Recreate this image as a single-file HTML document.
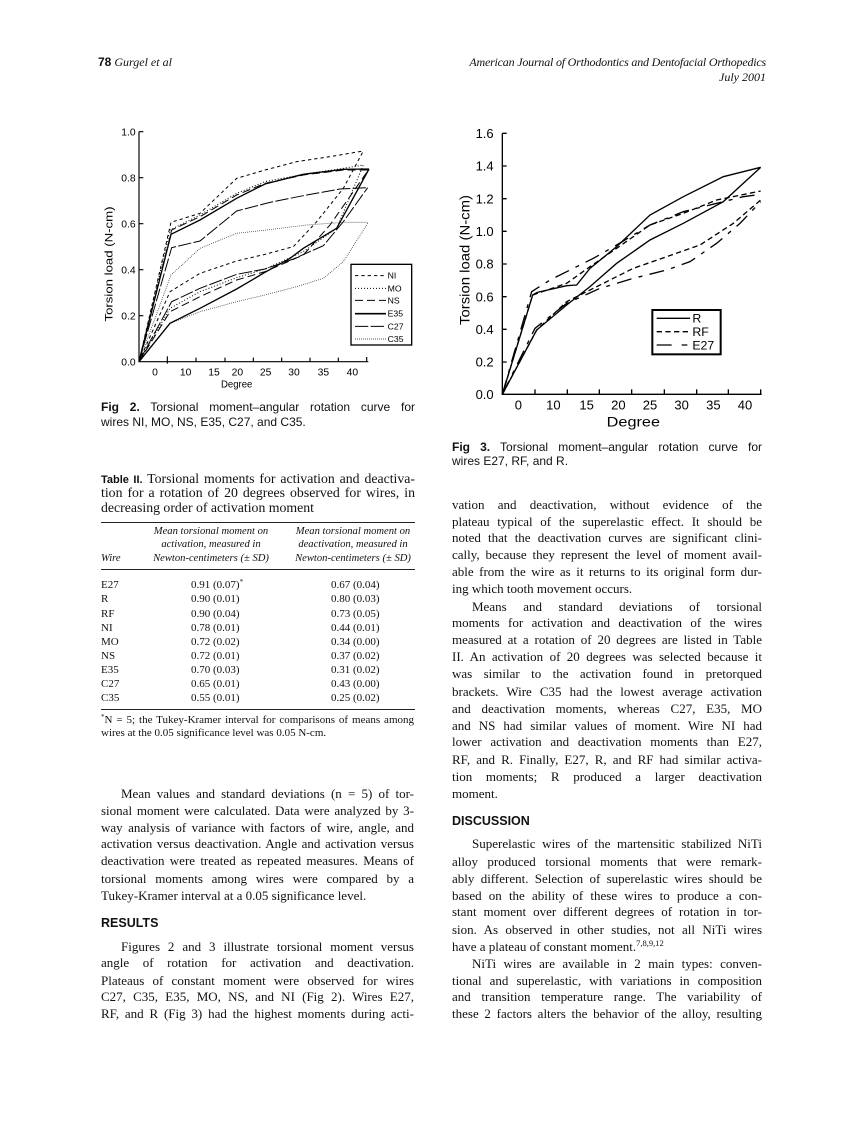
<!DOCTYPE html>
<html><head><meta charset="utf-8"><style>
html,body{margin:0;padding:0;background:#fff;}
body{width:866px;height:1122px;position:relative;overflow:hidden;color:#111;}
.a{position:absolute;white-space:nowrap;}
.l{position:absolute;font-family:"Liberation Serif",serif;font-size:13px;line-height:17px;text-align:justify;text-align-last:justify;height:17px;margin-top:1px;}
.L{left:101px;width:313px;}
.Li{left:121px;width:293px;}
.R{left:452px;width:310px;}
.Ri{left:472px;width:290px;}
.last{text-align-last:left;}
.h{position:absolute;font-family:"Liberation Sans",sans-serif;font-weight:bold;font-size:12.5px;line-height:15px;}
.cap{position:absolute;font-family:"Liberation Sans",sans-serif;font-size:12px;line-height:15px;text-align:justify;text-align-last:justify;height:15px;}
.tc{position:absolute;left:101px;width:314px;font-family:"Liberation Serif",serif;font-size:13.8px;line-height:14px;text-align:justify;text-align-last:justify;height:14px;}
.th{position:absolute;font-family:"Liberation Serif",serif;font-style:italic;font-size:10.6px;line-height:13px;text-align:center;width:160px;}
.tr{position:absolute;font-family:"Liberation Serif",serif;font-size:11px;line-height:14px;margin-top:1.5px;}
.rule{position:absolute;left:101px;width:314px;height:1px;background:#222;}
.fn{position:absolute;left:101px;width:313px;font-family:"Liberation Serif",serif;font-size:11px;line-height:13px;text-align:justify;text-align-last:justify;height:13px;}
.sp{font-size:7px;line-height:0;vertical-align:0;position:relative;top:-4px;}
</style></head><body>

<!-- header -->
<div class="a" style="left:98px;top:55px;font-size:12px;line-height:15px;"><span style="font-family:'Liberation Sans',sans-serif;font-weight:bold;">78</span> <span style="font-family:'Liberation Serif',serif;font-style:italic;">Gurgel et al</span></div>
<div class="a" style="right:100px;top:55px;font-family:'Liberation Serif',serif;font-style:italic;font-size:12px;line-height:15px;text-align:right;letter-spacing:-0.2px;">American Journal of Orthodontics and Dentofacial Orthopedics</div>
<div class="a" style="right:100px;top:70px;font-family:'Liberation Serif',serif;font-style:italic;font-size:12px;line-height:15px;text-align:right;">July 2001</div>

<!-- Fig 2 -->
<svg style="position:absolute;left:90px;top:115px" width="330" height="280" viewBox="0 0 990 840">
<g stroke="#000" fill="none" stroke-width="3.5">
<path d="M147,50 V740 H835"/>
<path d="M147,50 h13 M147,188 h13 M147,326 h13 M147,464 h13 M147,602 h13"/>
<path d="M232,746 v-22 M318,740 v-12 M405,740 v-12 M490,740 v-12 M575,740 v-12 M660,740 v-12 M745,740 v-12 M830,740 v-14"/>
</g>
<g font-family="Liberation Sans, sans-serif" font-size="31" fill="#000" text-anchor="end">
<text x="137" y="61">1.0</text><text x="137" y="199">0.8</text><text x="137" y="337">0.6</text><text x="137" y="475">0.4</text><text x="137" y="613">0.2</text><text x="137" y="751">0.0</text>
</g>
<g font-family="Liberation Sans, sans-serif" font-size="31" fill="#000" text-anchor="middle">
<text x="195" y="782">0</text><text x="287" y="782">10</text><text x="372" y="782">15</text><text x="442" y="782">20</text><text x="527" y="782">25</text><text x="612" y="782">30</text><text x="700" y="782">35</text><text x="787" y="782">40</text>
<text x="440" y="817" textLength="94" lengthAdjust="spacingAndGlyphs">Degree</text>
<text transform="translate(68,447) rotate(-90)" font-size="34" textLength="345" lengthAdjust="spacingAndGlyphs">Torsion load (N-cm)</text>
</g>
<g fill="none" stroke="#000" stroke-width="3">
<!-- NI -->
<path stroke-dasharray="10 9" d="M147,740 L243,322 L330,295 L440,190 L525,165 L620,140 L720,125 L820,108"/>
<path stroke-dasharray="10 9" d="M147,740 L240,530 L330,475 L440,438 L525,418 L610,395 L680,320 L760,220 L820,108"/>
<!-- MO -->
<path stroke-dasharray="3 6" d="M147,740 L240,345 L330,300 L440,235 L525,200 L640,178 L760,160 L820,150"/>
<path stroke-dasharray="3 6" d="M147,740 L240,580 L330,530 L440,488 L525,462 L640,410 L740,340 L820,150"/>
<!-- NS -->
<path stroke-dasharray="24 12" d="M147,740 L245,345 L330,305 L440,240 L525,205 L640,180 L760,165 L835,165"/>
<path stroke-dasharray="24 12" d="M147,740 L240,590 L330,545 L440,495 L525,470 L640,420 L720,330 L790,230 L835,165"/>
<!-- E35 -->
<path stroke-width="4" d="M147,740 L243,358 L330,315 L440,250 L525,207 L640,178 L760,163 L837,162"/>
<path stroke-width="4" d="M147,740 L240,625 L330,580 L440,522 L525,472 L600,430 L640,400 L740,340 L837,162"/>
<!-- C27 -->
<path stroke-dasharray="40 7" d="M147,740 L245,398 L330,378 L440,288 L540,262 L650,240 L750,222 L833,218"/>
<path stroke-dasharray="40 7" d="M147,740 L245,560 L330,520 L440,478 L525,462 L610,432 L700,392 L760,320 L833,218"/>
<!-- C35 -->
<path stroke-dasharray="2 4" stroke-width="2.5" d="M147,740 L243,480 L330,400 L440,355 L530,345 L650,330 L760,322 L835,322"/>
<path stroke-dasharray="2 4" stroke-width="2.5" d="M147,740 L240,625 L330,590 L440,560 L525,540 L620,515 L700,490 L760,440 L835,322"/>
</g>
<rect x="783" y="448" width="182" height="242" fill="#fff" stroke="#000" stroke-width="4"/>
<g fill="none" stroke="#000" stroke-width="3">
<path stroke-dasharray="10 9" d="M795,482 H888"/>
<path stroke-dasharray="3 6" d="M795,520 H888"/>
<path stroke-dasharray="24 12" d="M795,556 H888"/>
<path stroke-width="5" d="M795,596 H888"/>
<path stroke-dasharray="40 7" d="M795,634 H888"/>
<path stroke-dasharray="2 4" d="M795,672 H888"/>
</g>
<g font-family="Liberation Sans, sans-serif" font-size="26" fill="#000">
<text x="893" y="491">NI</text><text x="893" y="529">MO</text><text x="893" y="565">NS</text><text x="893" y="605">E35</text><text x="893" y="643">C27</text><text x="893" y="681">C35</text>
</g>
</svg>

<div class="cap" style="left:101px;width:314px;top:400px;"><b>Fig 2.</b> Torsional moment–angular rotation curve for</div>
<div class="cap" style="left:101px;width:314px;top:415px;text-align-last:left;">wires NI, MO, NS, E35, C27, and C35.</div>

<!-- Fig 3 -->
<svg style="position:absolute;left:450px;top:115px" width="320" height="320" viewBox="0 0 960 960">
<g stroke="#000" fill="none" stroke-width="4">
<path d="M157,55 V838 H935"/>
<path d="M157,55 h13 M157,153 h13 M157,251 h13 M157,349 h13 M157,447 h13 M157,545 h13 M157,643 h13 M157,741 h13"/>
<path d="M255,838 v-15 M352,838 v-15 M448,838 v-15 M545,838 v-15 M643,838 v-15 M740,838 v-15 M835,838 v-15 M932,838 v-15"/>
</g>
<g font-family="Liberation Sans, sans-serif" font-size="39" fill="#000" text-anchor="end">
<text x="131" y="69">1.6</text><text x="131" y="167">1.4</text><text x="131" y="265">1.2</text><text x="131" y="363">1.0</text><text x="131" y="461">0.8</text><text x="131" y="559">0.6</text><text x="131" y="657">0.4</text><text x="131" y="755">0.2</text><text x="131" y="852">0.0</text>
</g>
<g font-family="Liberation Sans, sans-serif" font-size="39" fill="#000" text-anchor="middle">
<text x="205" y="884">0</text><text x="310" y="884">10</text><text x="410" y="884">15</text><text x="505" y="884">20</text><text x="600" y="884">25</text><text x="695" y="884">30</text><text x="790" y="884">35</text><text x="885" y="884">40</text>
<text x="550" y="935" font-size="42" textLength="160" lengthAdjust="spacingAndGlyphs">Degree</text>
<text transform="translate(58,435) rotate(-90)" font-size="42" textLength="390" lengthAdjust="spacingAndGlyphs">Torsion load (N-cm)</text>
</g>
<g fill="none" stroke="#000" stroke-width="4">
<path d="M157,838 L248,540 L262,532 L350,512 L380,510 L420,460 L500,395 L600,300 L700,245 L820,185 L932,157"/>
<path d="M157,838 L260,645 L350,570 L420,515 L500,445 L600,375 L700,325 L820,260 L932,157"/>
<path stroke-dasharray="16 10" d="M157,838 L248,540 L350,505 L420,455 L500,400 L600,330 L700,295 L800,255 L932,228"/>
<path stroke-dasharray="16 10" d="M157,838 L260,645 L350,560 L450,510 L550,460 L650,425 L750,390 L850,325 L932,255"/>
<path stroke-dasharray="45 22 12 22" d="M157,838 L245,530 L300,495 L380,455 L430,430 L500,390 L600,330 L700,290 L800,265 L880,245 L932,238"/>
<path stroke-dasharray="45 22 12 22" d="M157,838 L255,640 L350,565 L450,520 L550,490 L650,465 L720,440 L800,385 L870,325 L932,260"/>
</g>
<rect x="607" y="585" width="205" height="133" fill="#fff" stroke="#000" stroke-width="6"/>
<g fill="none" stroke="#000" stroke-width="4">
<path d="M620,610 H720"/>
<path stroke-dasharray="16 10" d="M620,650 H720"/>
<path d="M620,690 H665 M695,690 H712"/>
</g>
<g font-family="Liberation Sans, sans-serif" font-size="37" fill="#000">
<text x="727" y="623">R</text><text x="727" y="663">RF</text><text x="727" y="703">E27</text>
</g>
</svg>

<div class="cap" style="left:452px;width:310px;top:440px;"><b>Fig 3.</b> Torsional moment–angular rotation curve for</div>
<div class="cap" style="left:452px;width:310px;top:454px;text-align-last:left;">wires E27, RF, and R.</div>

<!-- Table II -->
<div class="tc" style="top:472px;"><span style="font-family:'Liberation Sans',sans-serif;font-weight:bold;font-size:11px;">Table II.</span> Torsional moments for activation and deactiva-</div>
<div class="tc" style="top:486px;">tion for a rotation of 20 degrees observed for wires, in</div>
<div class="tc" style="top:501px;text-align-last:left;">decreasing order of activation moment</div>
<div class="rule" style="top:522px;"></div>
<div class="th" style="left:131px;top:525px;">Mean torsional moment on</div>
<div class="th" style="left:131px;top:538px;">activation, measured in</div>
<div class="th" style="left:131px;top:552px;">Newton-centimeters (± SD)</div>
<div class="th" style="left:273px;top:525px;">Mean torsional moment on</div>
<div class="th" style="left:273px;top:538px;">deactivation, measured in</div>
<div class="th" style="left:273px;top:552px;">Newton-centimeters (± SD)</div>
<div class="th" style="left:101px;top:552px;width:auto;text-align:left;">Wire</div>
<div class="rule" style="top:569px;"></div>

<div class="tr" style="left:101px;top:576px;">E27</div><div class="tr" style="left:191px;top:576px;">0.91 (0.07)<span class="sp">*</span></div><div class="tr" style="left:331px;top:576px;">0.67 (0.04)</div>
<div class="tr" style="left:101px;top:590px;">R</div><div class="tr" style="left:191px;top:590px;">0.90 (0.01)</div><div class="tr" style="left:331px;top:590px;">0.80 (0.03)</div>
<div class="tr" style="left:101px;top:605px;">RF</div><div class="tr" style="left:191px;top:605px;">0.90 (0.04)</div><div class="tr" style="left:331px;top:605px;">0.73 (0.05)</div>
<div class="tr" style="left:101px;top:619px;">NI</div><div class="tr" style="left:191px;top:619px;">0.78 (0.01)</div><div class="tr" style="left:331px;top:619px;">0.44 (0.01)</div>
<div class="tr" style="left:101px;top:633px;">MO</div><div class="tr" style="left:191px;top:633px;">0.72 (0.02)</div><div class="tr" style="left:331px;top:633px;">0.34 (0.00)</div>
<div class="tr" style="left:101px;top:647px;">NS</div><div class="tr" style="left:191px;top:647px;">0.72 (0.01)</div><div class="tr" style="left:331px;top:647px;">0.37 (0.02)</div>
<div class="tr" style="left:101px;top:661px;">E35</div><div class="tr" style="left:191px;top:661px;">0.70 (0.03)</div><div class="tr" style="left:331px;top:661px;">0.31 (0.02)</div>
<div class="tr" style="left:101px;top:675px;">C27</div><div class="tr" style="left:191px;top:675px;">0.65 (0.01)</div><div class="tr" style="left:331px;top:675px;">0.43 (0.00)</div>
<div class="tr" style="left:101px;top:689px;">C35</div><div class="tr" style="left:191px;top:689px;">0.55 (0.01)</div><div class="tr" style="left:331px;top:689px;">0.25 (0.02)</div>
<div class="rule" style="top:709px;"></div>
<div class="fn" style="top:714px;"><span class="sp">*</span>N = 5; the Tukey-Kramer interval for comparisons of means among</div>
<div class="fn" style="top:727px;text-align-last:left;">wires at the 0.05 significance level was 0.05 N-cm.</div>

<!-- Left column text -->
<div class="l Li" style="top:784px;">Mean values and standard deviations (n = 5) of tor-</div>
<div class="l L" style="top:801px;">sional moment were calculated. Data were analyzed by 3-</div>
<div class="l L" style="top:818px;">way analysis of variance with factors of wire, angle, and</div>
<div class="l L" style="top:834px;">activation versus deactivation. Angle and activation versus</div>
<div class="l L" style="top:851px;">deactivation were treated as repeated measures. Means of</div>
<div class="l L" style="top:869px;">torsional moments among wires were compared by a</div>
<div class="l L last" style="top:886px;">Tukey-Kramer interval at a 0.05 significance level.</div>
<div class="h" style="left:101px;top:916px;">RESULTS</div>
<div class="l Li" style="top:937px;">Figures 2 and 3 illustrate torsional moment versus</div>
<div class="l L" style="top:953px;">angle of rotation for activation and deactivation.</div>
<div class="l L" style="top:971px;">Plateaus of constant moment were observed for wires</div>
<div class="l L" style="top:987px;">C27, C35, E35, MO, NS, and NI (Fig 2). Wires E27,</div>
<div class="l L" style="top:1004px;">RF, and R (Fig 3) had the highest moments during acti-</div>

<!-- Right column text -->
<div class="l R" style="top:495px;">vation and deactivation, without evidence of the</div>
<div class="l R" style="top:512px;">plateau typical of the superelastic effect. It should be</div>
<div class="l R" style="top:528px;">noted that the deactivation curves are significant clini-</div>
<div class="l R" style="top:545px;">cally, because they represent the level of moment avail-</div>
<div class="l R" style="top:562px;">able from the wire as it returns to its original form dur-</div>
<div class="l R last" style="top:579px;">ing which tooth movement occurs.</div>
<div class="l Ri" style="top:597px;">Means and standard deviations of torsional</div>
<div class="l R" style="top:613px;">moments for activation and deactivation of the wires</div>
<div class="l R" style="top:630px;">measured at a rotation of 20 degrees are listed in Table</div>
<div class="l R" style="top:647px;">II. An activation of 20 degrees was selected because it</div>
<div class="l R" style="top:664px;">was similar to the activation found in pretorqued</div>
<div class="l R" style="top:682px;">brackets. Wire C35 had the lowest average activation</div>
<div class="l R" style="top:699px;">and deactivation moments, whereas C27, E35, MO</div>
<div class="l R" style="top:716px;">and NS had similar values of moment. Wire NI had</div>
<div class="l R" style="top:732px;">lower activation and deactivation moments than E27,</div>
<div class="l R" style="top:750px;">RF, and R. Finally, E27, R, and RF had similar activa-</div>
<div class="l R" style="top:767px;">tion moments; R produced a larger deactivation</div>
<div class="l R last" style="top:784px;">moment.</div>
<div class="h" style="left:452px;top:814px;">DISCUSSION</div>
<div class="l Ri" style="top:834px;">Superelastic wires of the martensitic stabilized NiTi</div>
<div class="l R" style="top:852px;">alloy produced torsional moments that were remark-</div>
<div class="l R" style="top:869px;">ably different. Selection of superelastic wires should be</div>
<div class="l R" style="top:886px;">based on the ability of these wires to produce a con-</div>
<div class="l R" style="top:902px;">stant moment over different degrees of rotation in tor-</div>
<div class="l R" style="top:920px;">sion. As observed in other studies, not all NiTi wires</div>
<div class="l R last" style="top:937px;">have a plateau of constant moment.<span style="font-size:8.5px;line-height:0;position:relative;top:-5px;">7,8,9,12</span></div>
<div class="l Ri" style="top:954px;">NiTi wires are available in 2 main types: conven-</div>
<div class="l R" style="top:971px;">tional and superelastic, with variations in composition</div>
<div class="l R" style="top:987px;">and transition temperature range. The variability of</div>
<div class="l R" style="top:1004px;">these 2 factors alters the behavior of the alloy, resulting</div>

</body></html>
